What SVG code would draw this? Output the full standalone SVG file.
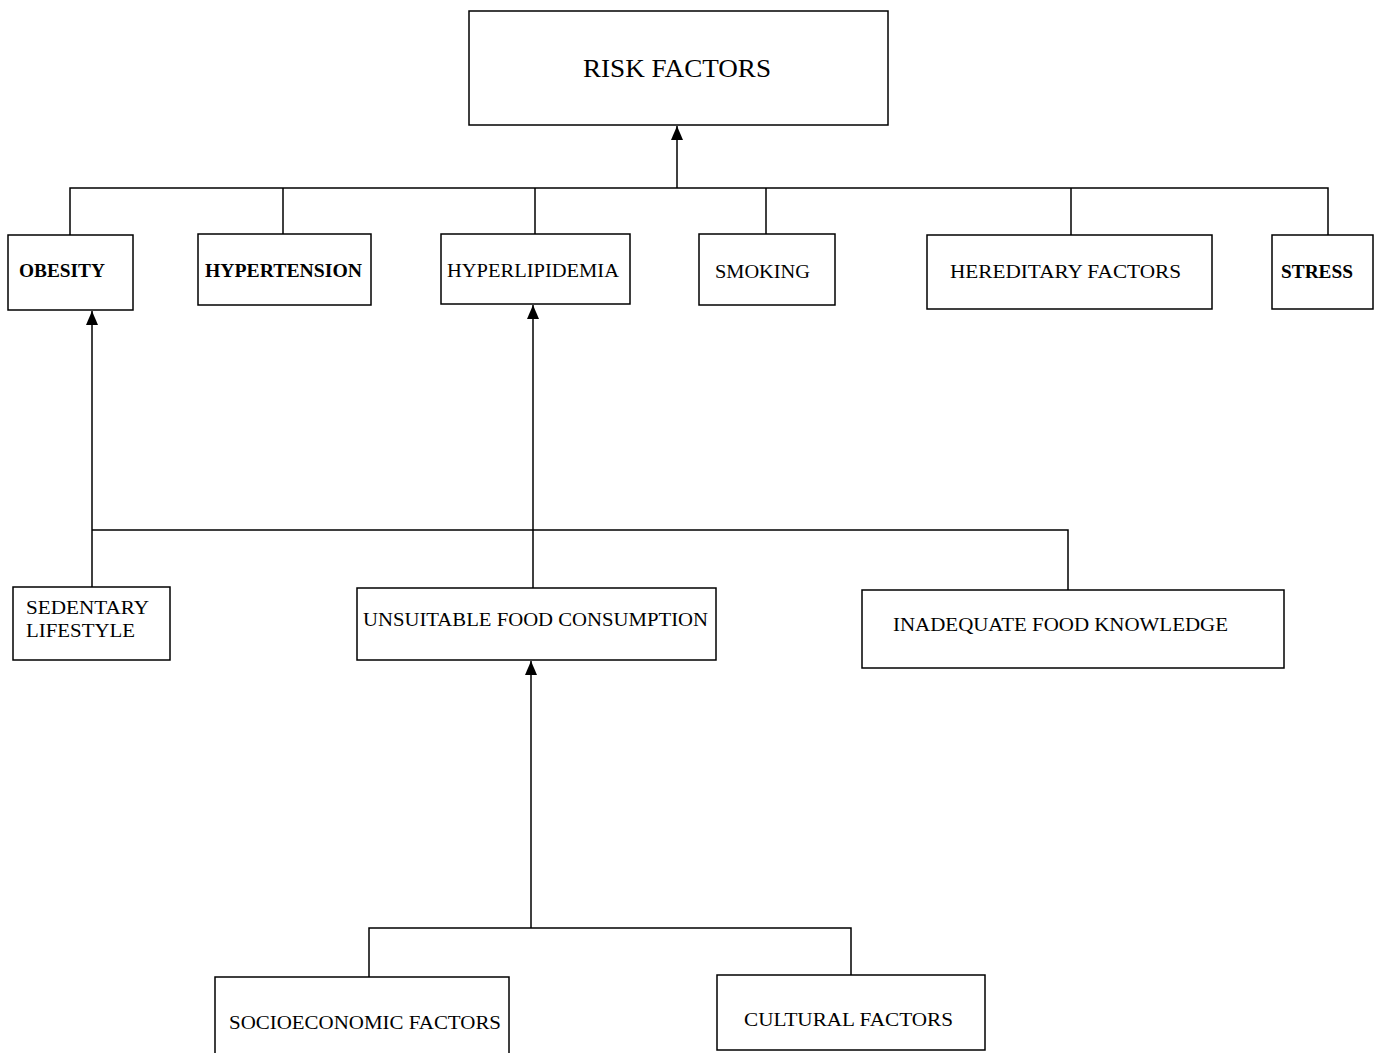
<svg xmlns="http://www.w3.org/2000/svg" width="1379" height="1053" viewBox="0 0 1379 1053">
<style>
.box{fill:#fff;stroke:#000;stroke-width:1.5}
.t{font-family:"Liberation Serif","Times New Roman",serif;font-size:18.5px;fill:#000}
.b{font-weight:bold}
.ln{fill:none;stroke:#000;stroke-width:1.5}
</style>
<defs>
<marker id="ah" viewBox="0 0 14 12" refX="14" refY="6" markerWidth="14" markerHeight="12" markerUnits="userSpaceOnUse" orient="auto">
<path d="M0,0 L14,6 L0,12 Z" fill="#000"/>
</marker>
</defs>
<rect width="1379" height="1053" fill="#fff"/>
<g id="connectors">
<path class="ln" d="M677,188 L677,126" marker-end="url(#ah)"/>
<path class="ln" d="M70,235 L70,188 L1328,188 L1328,235"/>
<path class="ln" d="M283,188 L283,234"/>
<path class="ln" d="M535,188 L535,234"/>
<path class="ln" d="M766,188 L766,234"/>
<path class="ln" d="M1071,188 L1071,235"/>
<path class="ln" d="M92,587 L92,311" marker-end="url(#ah)"/>
<path class="ln" d="M92,530 L1068,530 L1068,590"/>
<path class="ln" d="M533,588 L533,305" marker-end="url(#ah)"/>
<path class="ln" d="M531,928 L531,661" marker-end="url(#ah)"/>
<path class="ln" d="M369,977 L369,928 L851,928 L851,975"/>
</g>
<g id="risk-factors">
<rect class="box" x="469" y="11" width="419" height="114"/>
<text class="t" x="583" y="77" style="font-size:25px" textLength="188" lengthAdjust="spacingAndGlyphs">RISK FACTORS</text>
</g>
<g id="obesity">
<rect class="box" x="8" y="235" width="125" height="75"/>
<text class="t b" x="19" y="277" textLength="86" lengthAdjust="spacingAndGlyphs">OBESITY</text>
</g>
<g id="hypertension">
<rect class="box" x="198" y="234" width="173" height="71"/>
<text class="t b" x="205" y="277" textLength="157" lengthAdjust="spacingAndGlyphs">HYPERTENSION</text>
</g>
<g id="hyperlipidemia">
<rect class="box" x="441" y="234" width="189" height="70"/>
<text class="t" x="447" y="277" textLength="172" lengthAdjust="spacingAndGlyphs">HYPERLIPIDEMIA</text>
</g>
<g id="smoking">
<rect class="box" x="699" y="234" width="136" height="71"/>
<text class="t" x="715" y="278" textLength="95" lengthAdjust="spacingAndGlyphs">SMOKING</text>
</g>
<g id="hereditary-factors">
<rect class="box" x="927" y="235" width="285" height="74"/>
<text class="t" x="950" y="278" textLength="231" lengthAdjust="spacingAndGlyphs">HEREDITARY FACTORS</text>
</g>
<g id="stress">
<rect class="box" x="1272" y="235" width="101" height="74"/>
<text class="t b" x="1281" y="278" textLength="72" lengthAdjust="spacingAndGlyphs">STRESS</text>
</g>
<g id="sedentary-lifestyle">
<rect class="box" x="13" y="587" width="157" height="73"/>
<text class="t" x="26" y="614" textLength="123" lengthAdjust="spacingAndGlyphs">SEDENTARY</text>
<text class="t" x="26" y="637" textLength="109" lengthAdjust="spacingAndGlyphs">LIFESTYLE</text>
</g>
<g id="unsuitable-food-consumption">
<rect class="box" x="357" y="588" width="359" height="72"/>
<text class="t" x="363" y="626" textLength="345" lengthAdjust="spacingAndGlyphs">UNSUITABLE FOOD CONSUMPTION</text>
</g>
<g id="inadequate-food-knowledge">
<rect class="box" x="862" y="590" width="422" height="78"/>
<text class="t" x="893" y="631" textLength="335" lengthAdjust="spacingAndGlyphs">INADEQUATE FOOD KNOWLEDGE</text>
</g>
<g id="socioeconomic-factors">
<rect class="box" x="215" y="977" width="294" height="80"/>
<text class="t" x="229" y="1029" textLength="272" lengthAdjust="spacingAndGlyphs">SOCIOECONOMIC FACTORS</text>
</g>
<g id="cultural-factors">
<rect class="box" x="717" y="975" width="268" height="75"/>
<text class="t" x="744" y="1026" textLength="209" lengthAdjust="spacingAndGlyphs">CULTURAL FACTORS</text>
</g>
</svg>
